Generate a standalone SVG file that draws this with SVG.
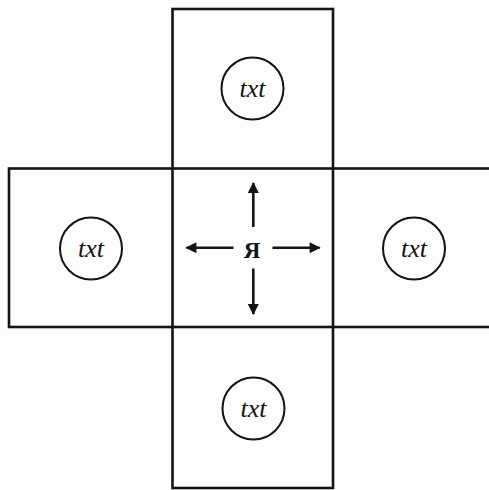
<svg xmlns="http://www.w3.org/2000/svg" width="489" height="490" viewBox="0 0 489 490">
<style>
.frame{fill:none;stroke:#141414;stroke-width:2.6}
.circ{fill:none;stroke:#141414;stroke-width:2}
.lbl{font-family:'Liberation Serif','Times New Roman','DejaVu Serif',serif;font-style:italic;font-size:26px;fill:#141414;text-anchor:middle}
.me{font-family:'Liberation Serif','Times New Roman','DejaVu Serif',serif;font-size:23px;font-weight:bold;fill:#141414;text-anchor:middle}
.arr{stroke:#141414;stroke-width:2.6;fill:none;marker-end:url(#ah)}
</style>
<defs>
<marker id="ah" viewBox="0 0 10 10" refX="9" refY="5" markerWidth="14" markerHeight="11" markerUnits="userSpaceOnUse" orient="auto">
<path d="M0,0 L10,5 L0,10 Z" fill="#141414"/>
</marker>
</defs>
<rect width="489" height="490" fill="#fdfdfd"/>
<g id="frames">
<rect class="frame" x="9" y="168.5" width="485" height="158.5"/>
<rect class="frame" x="172.5" y="9" width="160.5" height="479"/>
</g>
<g id="node-top">
<circle class="circ" cx="252.5" cy="88.5" r="31"/>
<text class="lbl" x="252.5" y="97">txt</text>
</g>
<g id="node-left">
<circle class="circ" cx="91" cy="248.5" r="31"/>
<text class="lbl" x="91" y="257">txt</text>
</g>
<g id="node-right">
<circle class="circ" cx="414" cy="248.5" r="31"/>
<text class="lbl" x="414" y="257">txt</text>
</g>
<g id="node-bottom">
<circle class="circ" cx="253.5" cy="408.5" r="31"/>
<text class="lbl" x="253.5" y="417">txt</text>
</g>
<g id="node-center">
<text class="me" x="252" y="257.5">Я</text>
</g>
<g id="connectors">
<line class="arr" x1="253.3" y1="227" x2="253.3" y2="183"/>
<line class="arr" x1="233.5" y1="247.7" x2="186.5" y2="247.7"/>
<line class="arr" x1="272.5" y1="247.7" x2="319.5" y2="247.7"/>
<line class="arr" x1="253.3" y1="268.5" x2="253.3" y2="314"/>
</g>
</svg>
